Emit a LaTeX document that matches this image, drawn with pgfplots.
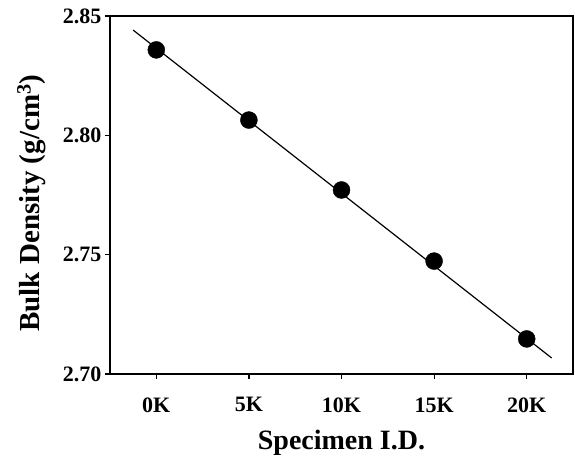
\documentclass[border=0pt]{standalone}
\usepackage{pgfplots}
\pgfplotsset{compat=1.18}
\usepackage{fontspec}
\setmainfont{Liberation Serif}

\begin{document}
\begin{tikzpicture}
\useasboundingbox (-110pt,-82pt) rectangle (465pt,374pt);
\begin{axis}[
  at={(0,0)}, anchor=south west,
  scale only axis,
  width=463pt, height=358pt,
  xmin=-0.5, xmax=4.5,
  ymin=2.70, ymax=2.85,
  xtick={0,1,2,3,4},
  xticklabels={0K,5K,10K,15K,20K},
  ytick={2.70,2.75,2.80,2.85},
  yticklabel style={/pgf/number format/.cd, fixed, fixed zerofill, precision=2},
  /pgf/number format/assume math mode=true,
  tick align=outside,
  xtick pos=bottom, ytick pos=left,
  major tick length=5pt,
  axis line style={line width=1.4pt},
  tick style={line width=1.2pt, black},
  tick label style={font=\fontsize{22}{26}\selectfont\bfseries},
  xticklabel style={yshift=-15pt},
  xlabel={Specimen I.D.},
  ylabel={Bulk Density (g/cm\textsuperscript{3})},
  label style={font=\fontsize{28}{32}\selectfont\bfseries},
  xlabel style={yshift=-11pt},
  ylabel style={font=\fontsize{29}{33}\selectfont\bfseries, yshift=10pt, xshift=-8pt},
]
\addplot[black, line width=1.2pt] coordinates {(-0.25,2.8441) (4.27,2.7067)};
\addplot[only marks, mark=*, mark size=8.5pt, black] coordinates {
  (0,2.8358) (1,2.8064) (2,2.7771) (3,2.7473) (4,2.7147)};
\end{axis}
\end{tikzpicture}
\end{document}
